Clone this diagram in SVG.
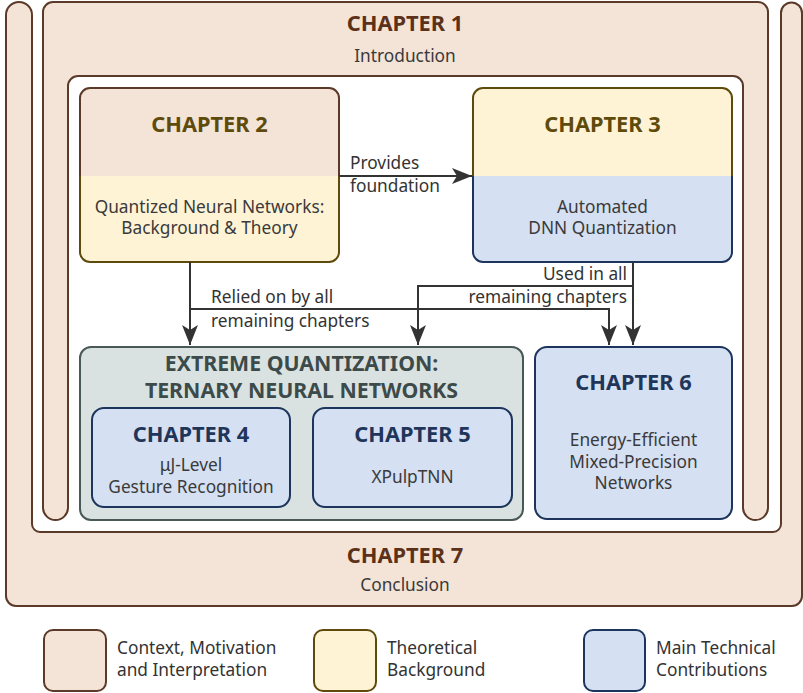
<svg xmlns="http://www.w3.org/2000/svg" width="803" height="693" viewBox="0 0 803 693">
  <style>
    text { font-family: "Noto Sans", "Open Sans", "DejaVu Sans", sans-serif; }
    .title { font-size: 21.8px; font-weight: bold; text-anchor: middle; }
    .t-ctx { fill: #5b3219; }
    .t-theory { fill: #5e4b0c; }
    .t-tech { fill: #1f3559; }
    .t-group { fill: #3c4a4a; font-size: 21.3px; }
    .body { font-size: 17.3px; fill: #3a3a3a; text-anchor: middle; }
    .lbl { font-size: 17.3px; fill: #333333; }
    .ctx { fill: #f4e3d7; stroke: #5b3a29; stroke-width: 2; }
    .theory { fill: #fff3d6; stroke: #5e4b0c; stroke-width: 2; }
    .tech { fill: #d5e0f2; stroke: #1d355c; stroke-width: 2; }
    .group { fill: #d9e2e1; stroke: #4b5858; stroke-width: 2; }
    .conn { fill: none; stroke: #333333; stroke-width: 2; }
  </style>
  <defs>
    <marker id="arrow" markerUnits="userSpaceOnUse" markerWidth="22" markerHeight="18" refX="21" refY="9" orient="auto">
      <path d="M1,1 L21,9 L1,17 L6,9 Z" fill="#333333"/>
    </marker>
  </defs>

  <!-- Chapter 7: outer frame wrapping everything -->
  <g id="chapter7">
    <path class="ctx" d="M6,15 A13,13 0 0 1 32,15 L32,524 A8,8 0 0 0 40,532 L773,532 A8,8 0 0 0 781,524 L781,13 A10.5,10.5 0 0 1 802,13 L802,596 A10,10 0 0 1 792,606 L16,606 A10,10 0 0 1 6,596 Z"/>
    <text class="title t-ctx" x="405" y="563">CHAPTER 7</text>
    <text class="body" x="405" y="591">Conclusion</text>
  </g>

  <!-- Chapter 1: top frame with two legs -->
  <g id="chapter1">
    <path class="ctx" d="M43,12 A10,10 0 0 1 53,2 L758,2 A10,10 0 0 1 768,12 L768,507.5 A12.5,12.5 0 0 1 743,507.5 L743,86 A10,10 0 0 0 733,76 L78,76 A10,10 0 0 0 68,86 L68,507.5 A12.5,12.5 0 0 1 43,507.5 Z"/>
    <text class="title t-ctx" x="405" y="31">CHAPTER 1</text>
    <text class="body" x="405" y="62">Introduction</text>
  </g>

  <!-- Chapter 2 -->
  <g id="chapter2">
    <path class="ctx" d="M80,176 L80,98 A10,10 0 0 1 90,88 L329,88 A10,10 0 0 1 339,98 L339,176"/>
    <path class="theory" d="M339,176 L339,252 A10,10 0 0 1 329,262 L90,262 A10,10 0 0 1 80,252 L80,176"/>
    <text class="title t-theory" x="209.5" y="132">CHAPTER 2</text>
    <text class="body" x="209.5" y="213">Quantized Neural Networks:</text>
    <text class="body" x="209.5" y="234">Background &amp; Theory</text>
  </g>

  <!-- Chapter 3 -->
  <g id="chapter3">
    <path class="theory" d="M473,176 L473,98 A10,10 0 0 1 483,88 L722,88 A10,10 0 0 1 732,98 L732,176"/>
    <path class="tech" d="M732,176 L732,252 A10,10 0 0 1 722,262 L483,262 A10,10 0 0 1 473,252 L473,176"/>
    <text class="title t-theory" x="602.5" y="132">CHAPTER 3</text>
    <text class="body" x="602.5" y="213">Automated</text>
    <text class="body" x="602.5" y="234">DNN Quantization</text>
  </g>

  <!-- Ternary neural networks group -->
  <g id="tnn-group">
    <rect class="group" x="80" y="347" width="443" height="173" rx="11"/>
    <text class="title t-group" x="301.5" y="371">EXTREME QUANTIZATION:</text>
    <text class="title t-group" x="301.5" y="398">TERNARY NEURAL NETWORKS</text>
  </g>

  <!-- Chapter 4 -->
  <g id="chapter4">
    <rect class="tech" x="92" y="408" width="198" height="99" rx="12"/>
    <text class="title t-tech" x="191" y="442">CHAPTER 4</text>
    <text class="body" x="191" y="471">μJ-Level</text>
    <text class="body" x="191" y="493">Gesture Recognition</text>
  </g>

  <!-- Chapter 5 -->
  <g id="chapter5">
    <rect class="tech" x="313" y="408" width="199" height="99" rx="12"/>
    <text class="title t-tech" x="412.5" y="442">CHAPTER 5</text>
    <text class="body" x="412.5" y="483">XPulpTNN</text>
  </g>

  <!-- Chapter 6 -->
  <g id="chapter6">
    <rect class="tech" x="535" y="347" width="197" height="172" rx="12"/>
    <text class="title t-tech" x="633.5" y="390">CHAPTER 6</text>
    <text class="body" x="633.5" y="446">Energy-Efficient</text>
    <text class="body" x="633.5" y="468">Mixed-Precision</text>
    <text class="body" x="633.5" y="489">Networks</text>
  </g>

  <!-- Connectors -->
  <g id="connectors">
    <path class="conn" d="M339,176 L472,176" marker-end="url(#arrow)"/>
    <path class="conn" d="M190,262 L190,345" marker-end="url(#arrow)"/>
    <path class="conn" d="M190,309 L609,309 L609,345" marker-end="url(#arrow)"/>
    <path class="conn" d="M633,262 L633,345" marker-end="url(#arrow)"/>
    <path class="conn" d="M633,286 L418,286 L418,345" marker-end="url(#arrow)"/>
    <text class="lbl" x="350" y="169">Provides</text>
    <text class="lbl" x="350" y="192">foundation</text>
    <text class="lbl" x="211" y="303">Relied on by all</text>
    <text class="lbl" x="211" y="327">remaining chapters</text>
    <text class="lbl" x="627" y="280" text-anchor="end">Used in all</text>
    <text class="lbl" x="627" y="303" text-anchor="end">remaining chapters</text>
  </g>

  <!-- Legend -->
  <g id="legend">
    <rect class="ctx" x="44" y="630" width="62" height="61" rx="9"/>
    <text class="lbl" x="117" y="654">Context, Motivation</text>
    <text class="lbl" x="117" y="676">and Interpretation</text>
    <rect class="theory" x="314" y="630" width="62" height="61" rx="9"/>
    <text class="lbl" x="387" y="654">Theoretical</text>
    <text class="lbl" x="387" y="676">Background</text>
    <rect class="tech" x="584" y="630" width="61" height="61" rx="9"/>
    <text class="lbl" x="656" y="654">Main Technical</text>
    <text class="lbl" x="656" y="676">Contributions</text>
  </g>
</svg>
